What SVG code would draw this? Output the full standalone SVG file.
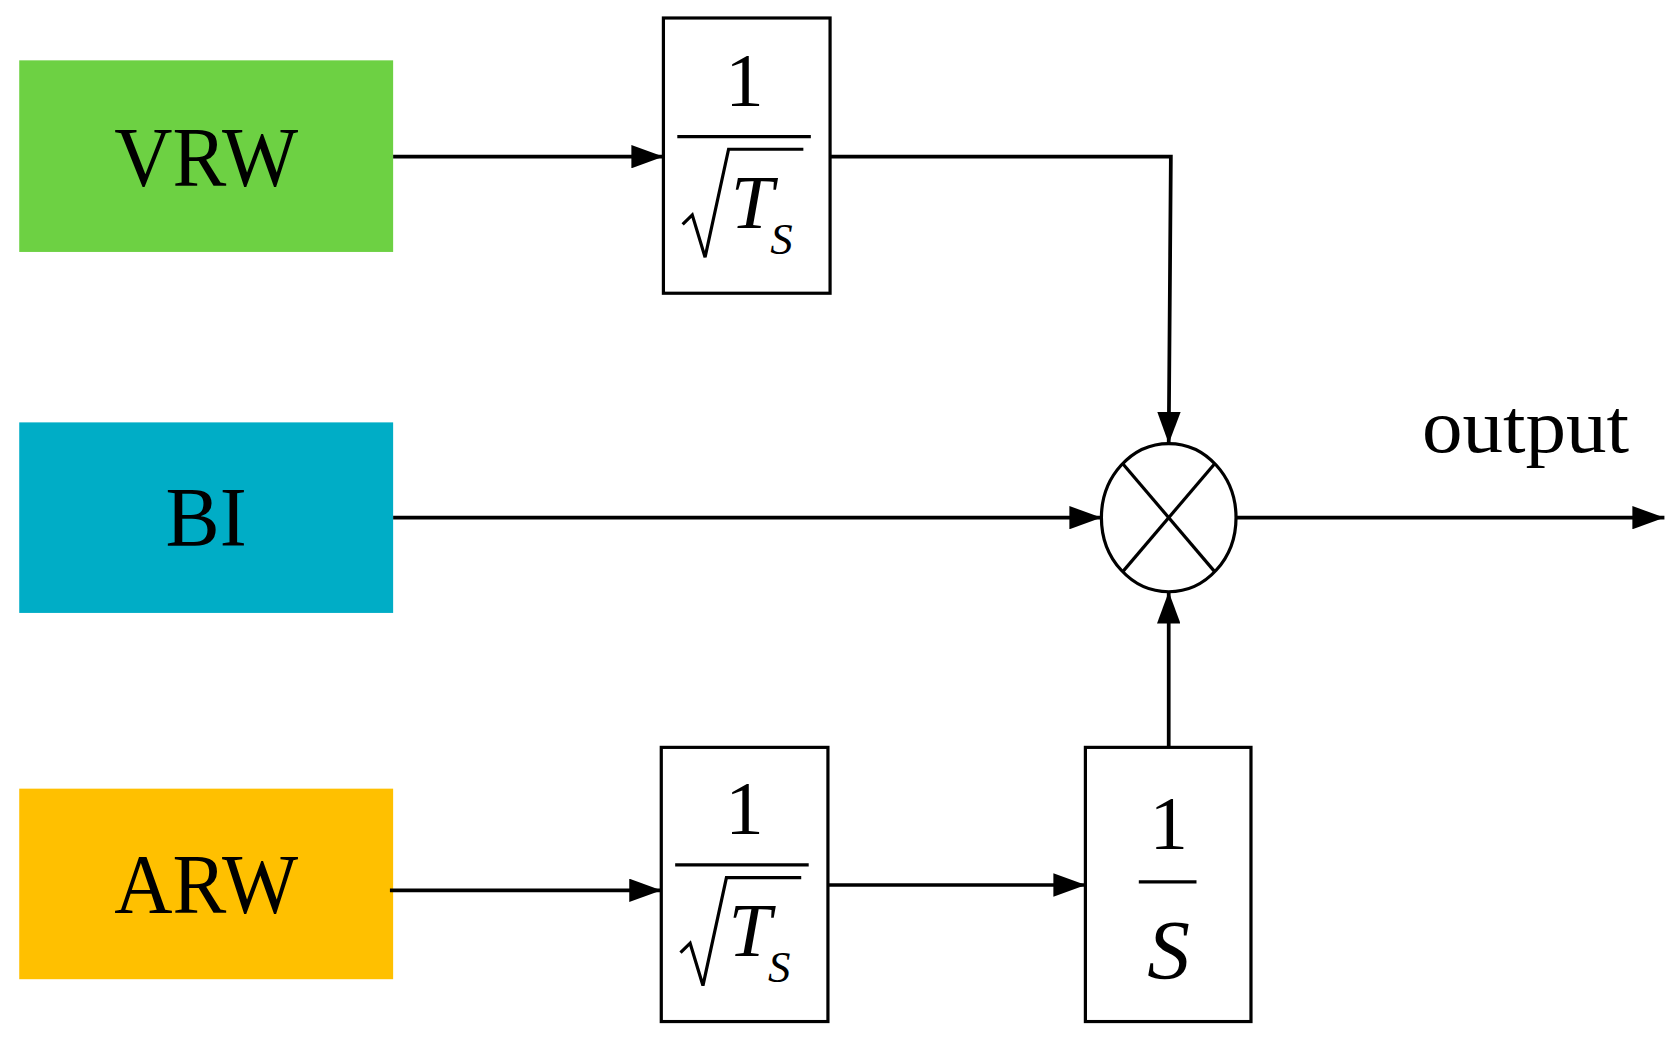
<svg xmlns="http://www.w3.org/2000/svg" width="1675" height="1048" viewBox="0 0 1675 1048">
<defs>
<marker id="ah" markerWidth="30" markerHeight="22" refX="30" refY="11" orient="auto" markerUnits="userSpaceOnUse" viewBox="0 0 30 22"><path d="M0,0 L30,11 L0,22 z" fill="#000"/></marker>
<style>
.t{font-family:"Liberation Serif",serif;fill:#000}
.b{fill:#fff;stroke:#000;stroke-width:3}
.c{fill:none;stroke:#000;stroke-width:3}
.ln{fill:none;stroke:#000;stroke-width:3.5}
</style>
</defs>
<rect width="1675" height="1048" fill="#fff"/>
<g transform="scale(1.0683,1.0586)">
<g id="vrw"><rect x="18" y="57" width="350" height="181" fill="#6dd143"/><text class="t" x="193" y="176" font-size="80" text-anchor="middle" textLength="172" lengthAdjust="spacingAndGlyphs">VRW</text></g>
<g id="bi"><rect x="18" y="399" width="350" height="180" fill="#00adc6"/><text class="t" x="193" y="516" font-size="80" text-anchor="middle" textLength="76" lengthAdjust="spacingAndGlyphs">BI</text></g>
<g id="arw"><rect x="18" y="745" width="350" height="180" fill="#ffc000"/><text class="t" x="193" y="862" font-size="80" text-anchor="middle" textLength="172" lengthAdjust="spacingAndGlyphs">ARW</text></g>
<g id="g1"><rect class="b" x="621" y="17" width="156" height="260"/><text class="t" x="697" y="100" font-size="72" text-anchor="middle">1</text><line class="c" x1="634" y1="129" x2="759" y2="129"/><path class="c" d="M639,212 L648,203 L660,243 L682,141 L752,141"/><text class="t" x="684" y="215" font-size="72" font-style="italic">T</text><text class="t" x="721" y="240" font-size="42" font-style="italic">S</text></g>
<g id="g2"><rect class="b" x="619" y="706" width="156" height="259"/><text class="t" x="697" y="788" font-size="72" text-anchor="middle">1</text><line class="c" x1="632" y1="817" x2="757" y2="817"/><path class="c" d="M637,900 L646,891 L658,931 L680,829 L750,829"/><text class="t" x="682" y="903" font-size="72" font-style="italic">T</text><text class="t" x="719" y="928" font-size="42" font-style="italic">S</text></g>
<g id="g3"><rect class="b" x="1016" y="706" width="155" height="259"/><text class="t" x="1094" y="802" font-size="72" text-anchor="middle">1</text><line class="c" x1="1066" y1="833" x2="1120" y2="833"/><text class="t" x="1094" y="925" font-size="80" font-style="italic" text-anchor="middle">S</text></g>
<g id="mult"><ellipse class="b" cx="1094" cy="489" rx="63" ry="70"/><line class="c" x1="1051" y1="438" x2="1137" y2="540"/><line class="c" x1="1137" y1="438" x2="1051" y2="540"/></g>
<text class="t" x="1428" y="427" font-size="72" text-anchor="middle" textLength="194" lengthAdjust="spacingAndGlyphs">output</text>
<g id="connectors">
<path class="ln" d="M368,148 H621" marker-end="url(#ah)"/>
<path class="ln" d="M777,148 H1096 L1094,419" marker-end="url(#ah)"/>
<path class="ln" d="M368,489 H1031" marker-end="url(#ah)"/>
<path class="ln" d="M1157,489 H1558" marker-end="url(#ah)"/>
<path class="ln" d="M365,841 H619" marker-end="url(#ah)"/>
<path class="ln" d="M775,836 H1016" marker-end="url(#ah)"/>
<path class="ln" d="M1094,706 V559" marker-end="url(#ah)"/>
</g>
</g>
</svg>
